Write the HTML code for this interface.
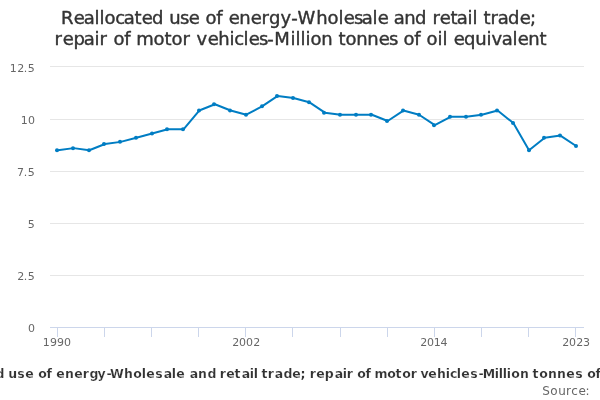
<!DOCTYPE html>
<html lang="en"><head><meta charset="utf-8"><title>Reallocated use of energy-Wholesale and retail trade; repair of motor vehicles-Million tonnes of oil equivalent</title>
<style>
html,body{margin:0;padding:0;background:#ffffff;}
body{width:600px;height:400px;overflow:hidden;}
svg{display:block;font-family:"DejaVu Sans","Liberation Sans",Verdana,Arial,sans-serif;}
text{white-space:pre;}
</style></head><body>
<svg width="600" height="400" viewBox="0 0 600 400">
<rect x="0" y="0" width="600" height="400" fill="#ffffff"/>
<g class="grid">
<path d="M 50 66.5 L 584 66.5" stroke="#e6e6e6" stroke-width="1" fill="none"/>
<path d="M 50 119.5 L 584 119.5" stroke="#e6e6e6" stroke-width="1" fill="none"/>
<path d="M 50 171.5 L 584 171.5" stroke="#e6e6e6" stroke-width="1" fill="none"/>
<path d="M 50 223.5 L 584 223.5" stroke="#e6e6e6" stroke-width="1" fill="none"/>
<path d="M 50 275.5 L 584 275.5" stroke="#e6e6e6" stroke-width="1" fill="none"/>
<path d="M 50 327.5 L 584 327.5" stroke="#e6e6e6" stroke-width="1" fill="none"/>
</g>
<g class="axis">
<path d="M 50 327.5 L 584 327.5" stroke="#ccd6eb" stroke-width="1" fill="none"/>
<path d="M 57.5 327 L 57.5 337" stroke="#ccd6eb" stroke-width="1" fill="none"/>
<path d="M 104.5 327 L 104.5 337" stroke="#ccd6eb" stroke-width="1" fill="none"/>
<path d="M 151.5 327 L 151.5 337" stroke="#ccd6eb" stroke-width="1" fill="none"/>
<path d="M 198.5 327 L 198.5 337" stroke="#ccd6eb" stroke-width="1" fill="none"/>
<path d="M 245.5 327 L 245.5 337" stroke="#ccd6eb" stroke-width="1" fill="none"/>
<path d="M 292.5 327 L 292.5 337" stroke="#ccd6eb" stroke-width="1" fill="none"/>
<path d="M 340.5 327 L 340.5 337" stroke="#ccd6eb" stroke-width="1" fill="none"/>
<path d="M 387.5 327 L 387.5 337" stroke="#ccd6eb" stroke-width="1" fill="none"/>
<path d="M 434.5 327 L 434.5 337" stroke="#ccd6eb" stroke-width="1" fill="none"/>
<path d="M 481.5 327 L 481.5 337" stroke="#ccd6eb" stroke-width="1" fill="none"/>
<path d="M 528.5 327 L 528.5 337" stroke="#ccd6eb" stroke-width="1" fill="none"/>
<path d="M 575.5 327 L 575.5 337" stroke="#ccd6eb" stroke-width="1" fill="none"/>
</g>
<g class="series">
<path d="M 57.85 150.22 L 73.56 148.13 L 89.26 150.22 L 104.97 143.96 L 120.68 141.87 L 136.38 137.69 L 152.09 133.52 L 167.79 129.34 L 183.50 129.34 L 199.21 110.55 L 214.91 104.28 L 230.62 110.55 L 246.32 114.72 L 262.03 106.37 L 277.74 95.93 L 293.44 98.02 L 309.15 102.20 L 324.85 112.64 L 340.56 114.72 L 356.26 114.72 L 371.97 114.72 L 387.68 120.99 L 403.38 110.55 L 419.09 114.72 L 434.79 125.16 L 450.50 116.81 L 466.21 116.81 L 481.91 114.72 L 497.62 110.55 L 513.32 123.08 L 529.03 150.22 L 544.74 137.69 L 560.44 135.60 L 576.15 146.04" fill="none" stroke="#007dc3" stroke-width="2.0" stroke-linejoin="round" stroke-linecap="round"/>
<circle cx="57" cy="150.22" r="2.0" fill="#007dc3"/>
<circle cx="73" cy="148.13" r="2.0" fill="#007dc3"/>
<circle cx="89" cy="150.22" r="2.0" fill="#007dc3"/>
<circle cx="104" cy="143.96" r="2.0" fill="#007dc3"/>
<circle cx="120" cy="141.87" r="2.0" fill="#007dc3"/>
<circle cx="136" cy="137.69" r="2.0" fill="#007dc3"/>
<circle cx="152" cy="133.52" r="2.0" fill="#007dc3"/>
<circle cx="167" cy="129.34" r="2.0" fill="#007dc3"/>
<circle cx="183" cy="129.34" r="2.0" fill="#007dc3"/>
<circle cx="199" cy="110.55" r="2.0" fill="#007dc3"/>
<circle cx="214" cy="104.28" r="2.0" fill="#007dc3"/>
<circle cx="230" cy="110.55" r="2.0" fill="#007dc3"/>
<circle cx="246" cy="114.72" r="2.0" fill="#007dc3"/>
<circle cx="262" cy="106.37" r="2.0" fill="#007dc3"/>
<circle cx="277" cy="95.93" r="2.0" fill="#007dc3"/>
<circle cx="293" cy="98.02" r="2.0" fill="#007dc3"/>
<circle cx="309" cy="102.20" r="2.0" fill="#007dc3"/>
<circle cx="324" cy="112.64" r="2.0" fill="#007dc3"/>
<circle cx="340" cy="114.72" r="2.0" fill="#007dc3"/>
<circle cx="356" cy="114.72" r="2.0" fill="#007dc3"/>
<circle cx="371" cy="114.72" r="2.0" fill="#007dc3"/>
<circle cx="387" cy="120.99" r="2.0" fill="#007dc3"/>
<circle cx="403" cy="110.55" r="2.0" fill="#007dc3"/>
<circle cx="419" cy="114.72" r="2.0" fill="#007dc3"/>
<circle cx="434" cy="125.16" r="2.0" fill="#007dc3"/>
<circle cx="450" cy="116.81" r="2.0" fill="#007dc3"/>
<circle cx="466" cy="116.81" r="2.0" fill="#007dc3"/>
<circle cx="481" cy="114.72" r="2.0" fill="#007dc3"/>
<circle cx="497" cy="110.55" r="2.0" fill="#007dc3"/>
<circle cx="513" cy="123.08" r="2.0" fill="#007dc3"/>
<circle cx="529" cy="150.22" r="2.0" fill="#007dc3"/>
<circle cx="544" cy="137.69" r="2.0" fill="#007dc3"/>
<circle cx="560" cy="135.60" r="2.0" fill="#007dc3"/>
<circle cx="576" cy="146.04" r="2.0" fill="#007dc3"/>
</g>
<g class="title">
<text x="61.02 73.71 83.71 94.49 99.49 104.48 115.37 123.71 134.55 141.71 152.07 163.00 169.33 179.93 188.71 199.00 205.48 216.26 222.00 228.71 239.28 250.71 261.60 268.99 280.62 291.24 297.58 316.30 327.48 338.49 343.71 353.93 361.71 372.49 377.71 388.00 393.71 404.28 415.07 426.00 432.60 439.71 450.55 456.71 467.49 472.49 477.00 483.55 490.60 497.71 508.07 519.71 529.91" y="24" font-size="18px" fill="#333333" stroke="#333333" stroke-width="0.42" stroke-linejoin="round">Reallocated use of energy-Wholesale and retail trade;</text>
<text x="54.60 62.71 73.48 83.71 94.49 99.60 107.00 113.48 124.26 130.00 136.19 153.48 164.55 171.48 182.60 190.00 196.62 207.71 218.30 229.49 234.37 243.49 248.71 258.93 267.24 274.20 290.49 295.49 300.49 305.49 310.48 321.28 332.00 338.55 345.48 356.28 367.28 378.71 388.93 397.00 403.48 414.26 420.00 426.48 437.49 442.49 447.00 453.71 464.08 475.33 486.49 491.62 501.71 512.49 517.71 528.28 539.55" y="45" font-size="18px" fill="#333333" stroke="#333333" stroke-width="0.42" stroke-linejoin="round">repair of motor vehicles-Million tonnes of oil equivalent</text>
</g>
<g class="ylabels">
<text x="9.81 17.15 23.73 27.84" y="72" font-size="11px" fill="#666666">12.5</text>
<text x="20.81 28.01" y="124" font-size="11px" fill="#666666">10</text>
<text x="16.96 23.73 27.84" y="176" font-size="11px" fill="#666666">7.5</text>
<text x="27.84" y="228" font-size="11px" fill="#666666">5</text>
<text x="17.15 23.73 27.84" y="280" font-size="11px" fill="#666666">2.5</text>
<text x="28.01" y="332" font-size="11px" fill="#666666">0</text>
</g>
<g class="xlabels">
<text x="42.81 49.94 56.94 64.01" y="346" font-size="11px" fill="#666666">1990</text>
<text x="232.15 239.01 246.01 253.15" y="346" font-size="11px" fill="#666666">2002</text>
<text x="420.15 427.01 433.81 440.60" y="346" font-size="11px" fill="#666666">2014</text>
<text x="562.15 569.01 576.15 582.94" y="346" font-size="11px" fill="#666666">2023</text>
</g>
<g class="legend">
<path d="M -101 374 L -85 374" stroke="#007dc3" stroke-width="2" fill="none"/>
<text x="-80.22 -70.79 -61.29 -53.17 -49.17 -44.80 -35.93 -28.29 -20.52 -13.79 -4.62 3.91 8.13 17.27 25.21 33.91 38.20 46.51 51.91 56.21 64.96 74.21 82.67 89.44 97.48 106.41 110.12 123.90 133.20 141.83 146.21 155.27 163.71 171.83 176.21 184.91 189.71 197.96 207.38 215.91 219.67 226.21 234.48 241.71 249.83 253.83 257.91 261.48 267.67 274.71 283.38 292.21 300.43 305.91 309.67 316.21 324.65 334.71 342.83 346.67 352.91 357.20 365.51 370.91 374.43 387.20 395.48 402.20 410.67 416.91 420.45 428.21 436.90 445.83 450.07 456.83 461.21 470.27 478.41 482.78 494.83 498.83 502.83 506.83 511.20 519.96 528.91 532.48 539.20 547.96 556.96 566.21 575.27 582.91 587.20 595.51 600.91 605.20 613.83 617.83 621.91 626.21 635.39 644.13 652.83 656.45 664.71 672.83 677.21 685.96 694.48" y="378" font-size="12.5px" fill="#333333" font-weight="bold" stroke="#ffffff" stroke-width="0.2" stroke-linejoin="round">Reallocated use of energy-Wholesale and retail trade; repair of motor vehicles-Million tonnes of oil equivalent</text>
</g>
<g class="credits">
<text x="542.18 550.34 558.26 565.93 571.30 578.40 585.48" y="395" font-size="12px" fill="#666666">Source:</text>
</g>
</svg>
</body></html>
